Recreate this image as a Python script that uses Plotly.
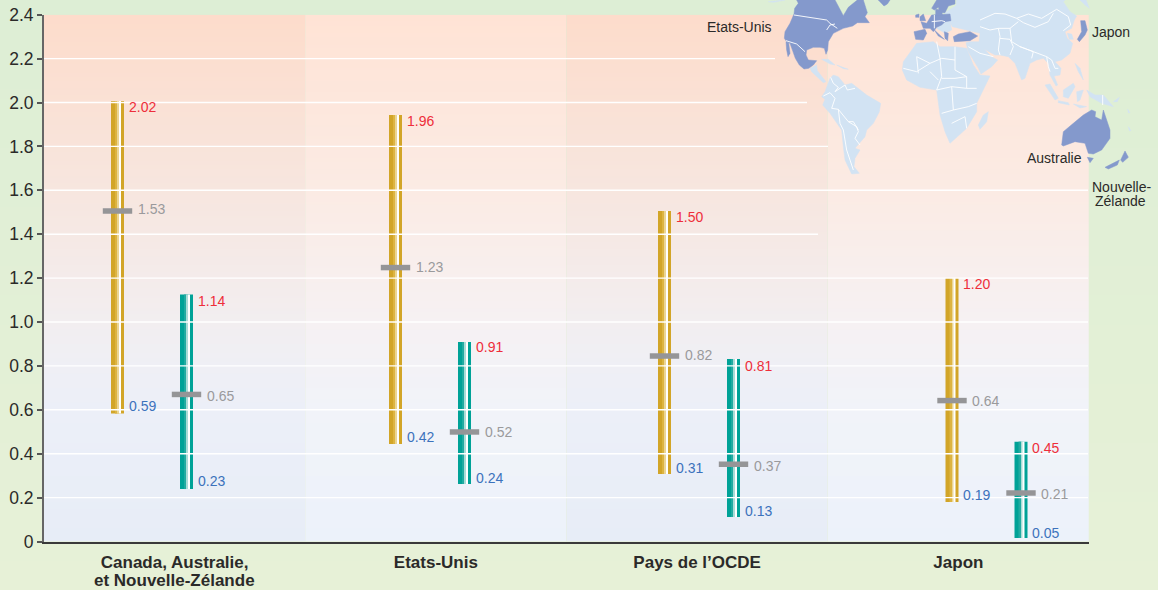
import plotly.graph_objects as go

W, H = 1158, 590
# ---------- data ----------
groups = ["Canada, Australie,<br>et Nouvelle-Zélande", "Etats-Unis", "Pays de l’OCDE", "Japon"]
y_ticks = [0, 0.2, 0.4, 0.6, 0.8, 1.0, 1.2, 1.4, 1.6, 1.8, 2.0, 2.2, 2.4]
y_tick_text = ["0", "0.2", "0.4", "0.6", "0.8", "1.0", "1.2", "1.4", "1.6", "1.8", "2.0", "2.2", "2.4"]
gold_high = [2.007, 1.943, 1.506, 1.200]
gold_low = [0.583, 0.444, 0.308, 0.180]
gold_mid = [1.506, 1.248, 0.845, 0.642]
teal_high = [1.125, 0.909, 0.831, 0.455]
teal_low = [0.239, 0.262, 0.112, 0.016]
teal_mid = [0.670, 0.499, 0.352, 0.221]
gold_high_text = ["2.02", "1.96", "1.50", "1.20"]
gold_low_text = ["0.59", "0.42", "0.31", "0.19"]
gold_mid_text = ["1.53", "1.23", "0.82", "0.64"]
teal_high_text = ["1.14", "0.91", "0.81", "0.45"]
teal_low_text = ["0.23", "0.24", "0.13", "0.05"]
teal_mid_text = ["0.65", "0.52", "0.37", "0.21"]

# ---------- layout constants ----------
LEFT, RIGHT, TOP, BOTTOM = 44.0, 1089.0, 14.7, 541.5
UNIT = (RIGHT - LEFT) / 4
group_centre_px = [152, 430, 699, 986.5]
group_x = [(p - LEFT) / UNIT for p in group_centre_px]
HALF = 34.5 / UNIT
grid_end_px = {2.2: 775, 2.0: 807, 1.8: 828, 1.6: 1088, 1.4: 818, 1.2: 1088, 1.0: 1088,
               0.8: 1088, 0.6: 1088, 0.4: 1088, 0.2: 1088}

fig = go.Figure()


def scale(stops, vmin, vmax):
    return [[(v - vmin) / (vmax - vmin), c] for v, c in stops]


# page background
fig.add_trace(go.Heatmap(x=[0, W], y=[0, H], z=[[0, 0], [1, 1]], zsmooth="best", showscale=False,
                         colorscale=[[0, "#DDEED5"], [1, "#E7F1D7"]], hoverinfo="skip", xaxis="x", yaxis="y"))

# panel gradients
dark_stops = [(0, "#E7EDF7"), (0.6, "#ECEFF8"), (0.8, "#EFEFF5"), (1.0, "#F2EEF0"), (1.6, "#F7E6DF"), (2.4, "#FDDCCB")]
light_stops = [(0, "#ECF2FA"), (0.6, "#F1F3F9"), (0.8, "#F3F2F6"), (1.0, "#F6F1F3"), (1.6, "#FBEBE4"), (2.4, "#FFE3D5")]
for i in range(4):
    stops = dark_stops if i % 2 == 0 else light_stops
    ys = [s[0] for s in stops]
    fig.add_trace(go.Heatmap(x=[i + 0.25, i + 0.75], y=ys, z=[[v, v] for v in ys], zsmooth="best", showscale=False,
                             zmin=0, zmax=2.4, colorscale=scale(stops, 0, 2.4), hoverinfo="skip",
                             xaxis="x2", yaxis="y2"))

# gridlines
gx, gy = [], []
for v, end in grid_end_px.items():
    gx += [0, (end - LEFT) / UNIT, None]
    gy += [v, v, None]
fig.add_trace(go.Scatter(x=gx, y=gy, mode="lines", line=dict(color="#FFFFFF", width=1.4), hoverinfo="skip",
                         xaxis="x2", yaxis="y2"))


# striped range bars
def bars(xc, low, high, layers):
    span = [h - l for h, l in zip(high, low)]
    for off0, off1, col in layers:
        off = (off0 + off1) / 2 / UNIT
        fig.add_trace(go.Bar(x=[x + off for x in xc], y=span, base=low, width=(off1 - off0) / UNIT,
                             marker=dict(color=col, line_width=0), hoverinfo="skip", xaxis="x2", yaxis="y2"))


gold_x = [g - HALF for g in group_x]
teal_x = [g + HALF for g in group_x]
bars(gold_x, gold_low, gold_high, [(-6.5, 6.5, "#D2A528"), (-2.5, 0, "#DDB441"), (0, 1.5, "#EBD593"), (1.5, 3.5, "#FFFFFF")])
bars(teal_x, teal_low, teal_high, [(-6.5, 6.5, "#00A297"), (-2.5, 0, "#22ABA1"), (0, 1.5, "#A9DCD7"), (1.5, 3.5, "#FFFFFF")])

# mid markers
fig.add_trace(go.Scatter(x=gold_x + teal_x, y=gold_mid + teal_mid, mode="markers", hoverinfo="skip",
                         marker=dict(symbol="line-ew", size=21, line=dict(color="#959597", width=5.5)),
                         xaxis="x2", yaxis="y2"))


# value labels
def labels(xs, vals, texts, color, xshift, yshifts):
    for x, v, t, ys in zip(xs, vals, texts, yshifts):
        fig.add_annotation(x=x, y=v, xref="x2", yref="y2", text=t, showarrow=False, xanchor="left",
                           xshift=xshift, yshift=ys, borderpad=0,
                           font=dict(family="Liberation Sans", size=14, color=color))


RED, BLUE, GREY = "#EE2E3A", "#3C72BC", "#9A9A9C"
labels(gold_x, gold_high, gold_high_text, RED, 10, [-6, -6, -6, -6])
labels(teal_x, teal_high, teal_high_text, RED, 10, [-6, -5, -7, -6])
labels(gold_x, gold_low, gold_low_text, BLUE, 10, [8, 7, 6, 7])
labels(teal_x, teal_low, teal_low_text, BLUE, 10, [8, 6, 6, 5])
labels(gold_x, gold_mid, gold_mid_text, GREY, 19, [2, 1, 1, 0])
labels(teal_x, teal_mid, teal_mid_text, GREY, 19, [-2, 0, -2, -1])

# ---------- decorative world map, outlines traced in 3x crops of the picture ----------
LIGHT, DARK = "#D2E3F3", "#8499CC"


def crop(origin, pts):
    return [(origin[0] + a / 3, origin[1] + b / 3) for a, b in pts]


Z5, Z6, Z7, Z8, Z9 = (780, 0), (810, 70), (895, 0), (980, 0), (1030, 80)

eurasia = crop(Z7, [(185, 0), (183, 22), (172, 40), (162, 60), (172, 80), (195, 85), (225, 92), (255, 100),
                    (252, 125), (225, 125), (213, 128), (220, 155), (250, 205), (258, 222), (290, 200),
                    (308, 180), (290, 170), (268, 148), (300, 165)]) + \
    crop(Z8, [(60, 165), (85, 170), (105, 190), (125, 240), (135, 235), (150, 190), (170, 180), (190, 175),
              (205, 190), (210, 225), (228, 258), (233, 255), (222, 228), (240, 225), (243, 205), (225, 185),
              (245, 180), (270, 160), (278, 130), (262, 115), (255, 95), (275, 85), (283, 60), (290, 48),
              (270, 35), (250, 5), (255, 0)])
africa = crop(Z7, [(25, 185), (65, 130), (115, 125), (135, 140), (180, 140), (215, 145), (235, 195), (255, 225),
                   (285, 228), (270, 260), (245, 310), (245, 335), (215, 385), (165, 430), (150, 395), (135, 345),
                   (125, 270), (75, 262), (35, 240), (22, 210)])
s_america = crop(Z6, [(35, 80), (45, 65), (60, 25), (70, 15), (85, 20), (105, 45), (125, 40), (145, 55), (170, 75),
                      (212, 100), (208, 125), (190, 160), (170, 180), (165, 200), (145, 225), (135, 235), (150, 240),
                      (135, 265), (132, 290), (148, 310), (125, 312), (105, 270), (100, 230), (95, 180), (60, 130),
                      (38, 105), (45, 88)])
light_shapes = [
    eurasia, africa, s_america,
    crop(Z5, [(90, 205), (110, 195), (112, 212), (128, 232), (138, 245), (130, 248), (110, 228), (95, 215)]),
    crop(Z5, [(125, 178), (145, 178), (165, 195), (150, 192)]),
    crop(Z5, [(170, 195), (205, 208), (190, 206)]),
    crop(Z7, [(265, 345), (280, 335), (275, 365), (255, 388), (250, 375)]),
    crop(Z7, [(165, 60), (170, 90), (150, 100), (125, 85), (140, 65)]),
    crop(Z7, [(150, 38), (186, 15), (186, 65), (160, 62)]),
    crop(Z8, [(300, 0), (318, 0), (328, 25), (315, 15)]),
    crop(Z8, [(285, 190), (300, 205), (310, 240), (295, 215)]),
    crop(Z8, [(262, 100), (275, 102), (280, 118), (268, 118)]),
    crop(Z9, [(45, 15), (60, 12), (85, 55), (75, 60)]),
    crop(Z9, [(85, 62), (115, 68), (118, 75), (85, 68)]),
    crop(Z9, [(100, 30), (130, 10), (135, 20), (115, 55), (100, 50)]),
    crop(Z9, [(140, 35), (160, 30), (150, 60), (142, 65)]),
    crop(Z9, [(130, 72), (170, 80), (150, 84)]),
    crop(Z9, [(170, 30), (195, 45), (220, 45), (250, 80), (215, 70), (180, 50)]),
    crop(Z9, [(250, 65), (268, 52), (262, 65)]),
    crop(Z9, [(295, 140), (303, 152), (298, 152)]),
    crop(Z9, [(293, 88), (300, 98), (295, 98)]),
    crop((690, 0), [(235, 5), (285, 0), (250, 7)]),
]
dark_shapes = [
    crop(Z5, [(50, 0), (55, 10), (44, 25), (42, 42), (30, 70), (15, 95), (13, 115), (20, 125), (30, 130), (38, 150),
              (46, 175), (58, 195), (72, 207), (86, 205), (100, 195), (110, 182), (100, 182), (85, 180), (78, 165),
              (80, 150), (100, 142), (120, 142), (133, 145), (138, 163), (143, 150), (145, 125), (160, 100),
              (190, 85), (218, 78), (232, 68), (268, 68), (255, 50), (262, 38), (255, 15), (250, 0), (232, 0),
              (205, 22), (190, 47), (178, 25), (165, 0)]),
    crop(Z5, [(18, 125), (26, 128), (30, 160), (24, 170), (20, 150)]),
    crop(Z5, [(295, 0), (330, 0), (322, 12), (312, 18)]),
    crop(Z7, [(57, 95), (90, 88), (95, 100), (85, 120), (62, 118)]),
    crop(Z7, [(78, 65), (95, 70), (110, 45), (165, 42), (168, 62), (150, 65), (140, 75), (125, 82), (115, 95), (105, 85), (85, 85)]),
    crop(Z7, [(118, 90), (135, 105), (148, 118), (130, 108)]),
    crop(Z7, [(110, 25), (120, 5), (125, 0), (180, 0), (180, 12), (160, 18), (150, 38), (135, 38), (130, 22), (118, 30)]),
    crop(Z7, [(122, 28), (140, 30), (142, 46), (122, 46)]),
    crop(Z7, [(75, 50), (85, 42), (92, 62), (75, 62)]),
    crop(Z7, [(62, 45), (72, 42), (72, 52), (62, 52)]),
    crop(Z7, [(148, 95), (160, 100), (158, 122), (150, 115)]),
    crop(Z7, [(175, 110), (190, 102), (225, 95), (248, 108), (225, 122), (190, 125), (178, 125)]),
    crop(Z8, [(302, 62), (315, 62), (322, 90), (315, 105), (298, 125), (292, 118), (305, 95)]),
    crop(Z9, [(95, 195), (100, 155), (130, 130), (160, 105), (185, 90), (197, 95), (195, 110), (215, 120), (220, 90),
              (240, 150), (240, 175), (215, 210), (190, 222), (175, 220), (165, 190), (135, 185), (100, 198)]),
    crop(Z9, [(172, 232), (190, 235), (180, 248)]),
    crop(Z9, [(225, 262), (255, 245), (268, 240), (262, 255), (235, 267)]),
    crop(Z9, [(272, 240), (285, 213), (295, 232), (278, 247)]),
]
borders = [
    crop(Z5, [(42, 45), (140, 60), (150, 70), (172, 85)]),
    crop(Z5, [(140, 90), (150, 75), (165, 72)]),
    crop(Z5, [(18, 122), (50, 132), (75, 155)]),
    crop(Z6, [(62, 22), (70, 40), (85, 52), (75, 65), (105, 45), (112, 60), (135, 55)]),
    crop(Z6, [(40, 78), (60, 68), (75, 85), (65, 115), (85, 118), (90, 160), (100, 180), (110, 240), (130, 300)]),
    crop(Z6, [(85, 118), (115, 155), (140, 170), (145, 185), (135, 205), (150, 225)]),
    crop(Z6, [(115, 155), (130, 155), (145, 180)]),
    crop(Z7, [(65, 170), (105, 190), (140, 175), (180, 180), (180, 140)]),
    crop(Z7, [(125, 125), (135, 175), (140, 230), (125, 270)]),
    crop(Z7, [(180, 180), (180, 210), (215, 230)]),
    crop(Z7, [(140, 235), (180, 235), (215, 230), (215, 265), (245, 265)]),
    crop(Z7, [(25, 205), (65, 215), (105, 190)]),
    crop(Z7, [(65, 170), (70, 220)]),
    crop(Z7, [(105, 215), (130, 240)]),
    crop(Z7, [(125, 270), (170, 260), (215, 265)]),
    crop(Z7, [(170, 260), (175, 330), (220, 320), (245, 310)]),
    crop(Z7, [(140, 340), (175, 330)]),
    crop(Z7, [(170, 370), (210, 350), (215, 385)]),
    crop(Z7, [(220, 140), (255, 160), (295, 170)]),
    crop(Z7, [(110, 65), (140, 62), (150, 65)]),
    crop(Z7, [(118, 45), (118, 85)]),
    crop(Z8, [(0, 60), (25, 50), (45, 40), (75, 42), (110, 55), (145, 42), (185, 55), (210, 40), (230, 28), (265, 50),
              (272, 75), (250, 92)]),
    crop(Z8, [(110, 55), (130, 68), (165, 82), (205, 65), (220, 40)]),
    crop(Z8, [(115, 65), (90, 85), (95, 125), (120, 140), (160, 155), (200, 170), (215, 180)]),
    crop(Z8, [(0, 80), (30, 90), (55, 85), (90, 85)]),
    crop(Z8, [(55, 85), (60, 110), (55, 150), (60, 165)]),
    crop(Z8, [(60, 115), (90, 118), (100, 140), (90, 165)]),
    crop(Z8, [(120, 140), (160, 155), (155, 175)]),
    crop(Z8, [(200, 170), (205, 200), (210, 215)]),
    crop(Z8, [(215, 180), (225, 205), (235, 205)]),
    crop(Z9, [(218, 45), (218, 75)]),
]


def add_shapes(shapes, color):
    for s in shapes:
        fig.add_trace(go.Scatter(x=[p[0] for p in s] + [s[0][0]], y=[p[1] for p in s] + [s[0][1]], mode="lines",
                                 fill="toself", fillcolor=color, line=dict(color=color, width=0.5),
                                 hoverinfo="skip", xaxis="x3", yaxis="y3"))


add_shapes(light_shapes, LIGHT)
add_shapes(dark_shapes, DARK)
bx, by = [], []
for s in borders:
    bx += [p[0] for p in s] + [None]
    by += [p[1] for p in s] + [None]
fig.add_trace(go.Scatter(x=bx, y=by, mode="lines", line=dict(color="#FFFFFF", width=0.9), hoverinfo="skip",
                         xaxis="x3", yaxis="y3"))

# map place names
place_names = ["Etats-Unis", "Japon", "Australie", "Nouvelle-", "Zélande"]
place_px = [(739.5, 27), (1111, 32), (1054, 158), (1121, 187), (1120, 201)]
for name, (px, py) in zip(place_names, place_px):
    fig.add_annotation(x=px, y=py, xref="x3", yref="y3", text=name, showarrow=False,
                       font=dict(family="Liberation Sans", size=14, color="#2B2A29"))

# second line of the first category label sits tighter than the library's line spacing
first_lines = [g.split("<br>")[0] for g in groups]
for i, g in enumerate(groups):
    if "<br>" in g:
        fig.add_annotation(x=i + 0.5, y=580.5, xref="x2", yref="y3", text="<b>%s</b>" % g.split("<br>")[1],
                           showarrow=False, font=dict(family="Liberation Sans", size=17, color="#2B2A29"))

hidden = dict(visible=False, fixedrange=True)
fig.update_layout(
    width=W, height=H, margin=dict(l=0, r=0, t=0, b=0, autoexpand=False), showlegend=False, barmode="overlay",
    paper_bgcolor="#E3F0D6", plot_bgcolor="rgba(0,0,0,0)",
    font=dict(family="Liberation Sans", color="#333333"),
    xaxis=dict(domain=[0, 1], range=[0, W], **hidden),
    yaxis=dict(domain=[0, 1], range=[H, 0], **hidden),
    xaxis3=dict(domain=[0, 1], range=[0, W], anchor="y3", **hidden),
    yaxis3=dict(domain=[0, 1], range=[H, 0], anchor="x3", **hidden),
    xaxis2=dict(domain=[LEFT / W, RIGHT / W], range=[0, 4], anchor="y2", fixedrange=True, showgrid=False,
                zeroline=False, showline=True, linecolor="#3A3A3A", linewidth=2,
                tickmode="array", tickvals=[0.5, 1.5, 2.5, 3.5], ticktext=["<b>%s</b>" % g for g in first_lines],
                ticks="", ticklabelstandoff=4, tickangle=0, tickfont=dict(family="Liberation Sans", size=17, color="#2B2A29")),
    yaxis2=dict(domain=[1 - BOTTOM / H, 1 - TOP / H], range=[0, 2.4], anchor="x2", fixedrange=True, showgrid=False,
                zeroline=False, showline=True, linecolor="#666666", linewidth=2,
                tickmode="array", tickvals=y_ticks, ticktext=y_tick_text, ticks="outside", ticklen=5, tickwidth=1.5,
                tickcolor="#555555", tickfont=dict(family="Liberation Sans", size=17.5, color="#2B2A29")),
)

fig.write_html("out.html", config=dict(displayModeBar=False),
               post_script="document.body.style.margin='0';document.body.style.overflow='hidden';")
